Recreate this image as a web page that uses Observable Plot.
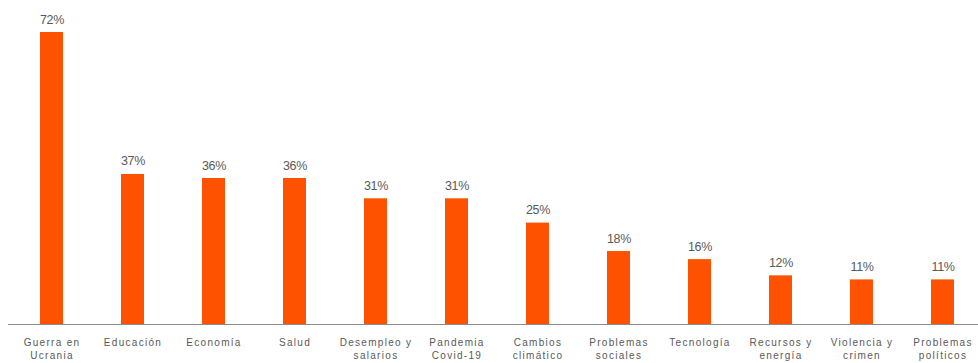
<!DOCTYPE html>
<html>
<head>
<meta charset="utf-8">
<script src="https://cdn.jsdelivr.net/npm/d3@7"></script>
<script src="https://cdn.jsdelivr.net/npm/@observablehq/plot@0.6"></script>
<style>
  html, body { margin: 0; padding: 0; background: #fff; }
  #chart svg { display: block; }
  #chart g[aria-label="x-axis tick label"] text { letter-spacing: 1.3px; }
  #chart g[aria-label="text"] text { letter-spacing: -0.3px; }
</style>
</head>
<body>
<div id="chart"></div>
<script>
const categories = [
  "Guerra en\nUcrania", "Educación", "Economía", "Salud",
  "Desempleo y\nsalarios", "Pandemia\nCovid-19", "Cambios\nclimático",
  "Problemas\nsociales", "Tecnología", "Recursos y\nenergía",
  "Violencia y\ncrimen", "Problemas\npolíticos"
];
const values = [72, 37, 36, 36, 31, 31, 25, 18, 16, 12, 11, 11];
const labels = values.map(v => v + "%");

const data = categories.map((c, i) => ({category: c, value: values[i], label: labels[i]}));

const chart = Plot.plot({
  width: 978,
  height: 363,
  marginLeft: 8,
  marginRight: 0,
  marginTop: 32,
  marginBottom: 39,
  style: {fontFamily: "'Liberation Sans', Arial, sans-serif", background: "#fff"},
  x: {domain: categories, paddingInner: 0.717, paddingOuter: 0.331, align: 0.567, label: null},
  y: {domain: [0, 72], axis: null},
  marks: [
    Plot.barY(data, {x: "category", y: "value", fill: "#FF5200"}),
    Plot.ruleY([0], {stroke: "#8c8c8c", strokeWidth: 1.2}),
    Plot.text(data, {x: "category", y: "value", text: "label", dy: -13, fill: "#595959", fontSize: 12.5}),
    Plot.axisX({tickSize: 0, tickPadding: 12, fontSize: 10, fill: "#595959", lineHeight: 1.3})
  ]
});
document.getElementById("chart").appendChild(chart);
</script>
</body>
</html>
